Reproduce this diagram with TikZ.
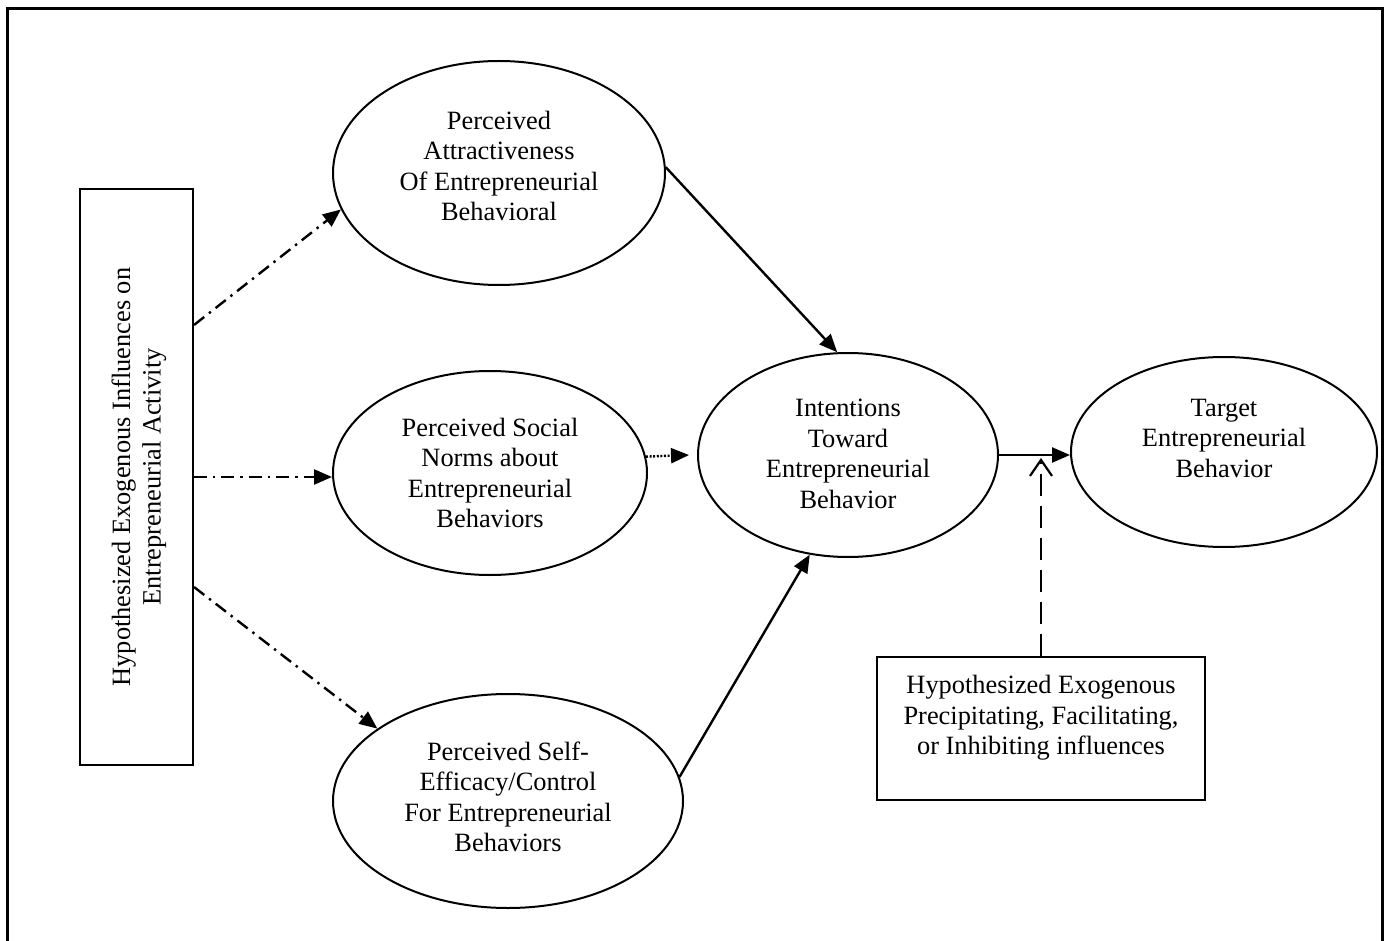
\documentclass[tikz,border=0pt]{standalone}
\usepackage{fontspec}
\setmainfont{Liberation Serif}
\usetikzlibrary{arrows.meta,shapes.geometric}
\begin{document}
\begin{tikzpicture}[x=0.5pt,y=-0.5pt,
  oval/.style={draw,ellipse,line width=1pt,inner sep=0pt},
  boxed/.style={draw,rectangle,line width=1pt,inner sep=0pt},
  txt/.style={align=center,inner sep=0pt,font=\fontsize{13.2}{15.25}\selectfont},
  link/.style={line width=1.2pt,-{Triangle[length=9pt,width=7.5pt]}},
  dashdot/.style={link,dash pattern=on 6.5pt off 3pt on 1.2pt off 3pt},
  dotlink/.style={link,dash pattern=on 1pt off 0.8pt},
  dashlink/.style={line width=1.2pt,dash pattern=on 11pt off 5pt,
    -{Straight Barb[length=8pt,width=11pt,line width=1.1pt]}}
]
\useasboundingbox (0,0) rectangle (1387,941);

% outer frame (open at the bottom)
\draw[line width=1.5pt] (7,950) -- (7,9) -- (1382,9) -- (1382,950);

% boxes
\node[boxed,minimum width=56.5pt,minimum height=288pt] (lbox) at (136.5,477) {};
\node[txt,rotate=90] at (139,477) {Hypothesized Exogenous Influences on\\Entrepreneurial Activity};
\node[boxed,minimum width=164pt,minimum height=71.5pt] (rbox) at (1041,728.5) {};
\node[txt] at (1041,718) {Hypothesized Exogenous\\Precipitating, Facilitating,\\or Inhibiting influences};

% ellipses
\node[oval,minimum width=166pt,minimum height=112pt] (e1) at (499,173) {};
\node[txt] at (499,166) {Perceived\\Attractiveness\\Of Entrepreneurial\\Behavioral};
\node[oval,minimum width=157pt,minimum height=102pt] (e2) at (490,473) {};
\node[txt] at (490,473) {Perceived Social\\Norms about\\Entrepreneurial\\Behaviors};
\node[oval,minimum width=175pt,minimum height=107pt] (e3) at (508,801) {};
\node[txt] at (508,797) {Perceived Self-\\Efficacy/Control\\For Entrepreneurial\\Behaviors};
\node[oval,minimum width=150pt,minimum height=102pt] (e4) at (848,455) {};
\node[txt] at (848,454) {Intentions\\Toward\\Entrepreneurial\\Behavior};
\node[oval,minimum width=153pt,minimum height=95pt] (e5) at (1224,452) {};
\node[txt] at (1224,438) {Target\\Entrepreneurial\\Behavior};

% connectors
\draw[dashdot] ([yshift=76pt]lbox.east) -- (e1.193.7);
\draw[dashdot] (lbox.east) -- (lbox.east -| e2.west);
\draw[dashdot] ([yshift=-55pt]lbox.east) -- (e3.151);
\draw[link] (e1.2) -- (e4.96);
\draw[link] (e3.8.5) -- (e4.249);
\draw[dotlink] (e2.6.5) -- ([xshift=-4pt]e4.west);
\draw[link] (e4.east) -- (e4.east -| e5.west);
\coordinate (meet) at (rbox.north |- e4.east);
\draw[dashlink] (rbox.north) -- ([yshift=-1.5pt]meet);
\end{tikzpicture}
\end{document}
